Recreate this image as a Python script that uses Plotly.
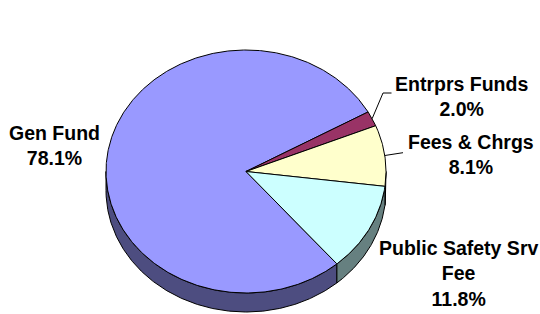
import numpy as np
import plotly.graph_objects as go

# ---- data ----
categories = ["Gen Fund", "Entrprs Funds", "Fees & Chrgs", "Public Safety Srv Fee"]
label_lines = ["Gen Fund", "Entrprs Funds", "Fees & Chrgs", "Public Safety Srv<br>Fee"]
values = [78.1, 2.0, 8.1, 11.8]
top_colors = ["#9999FF", "#993366", "#FFFFCC", "#CCFFFF"]
side_colors = ["#4D4D80", "#4D1A33", "#808066", "#668080"]

# ---- geometry / layout constants ----
W, H = 540, 314
cx, cy = 246.0, 171.5
rx, ry = 140.0, 121.5
depth = 19.0
first_angle = 310.5  # degrees, ccw from 3 o'clock; slices run clockwise

# label centres (layout) and leader elbows
label_pos = [(54, 145), (461.5, 96), (471, 154.5), (458, 273)]
leader_pts = [None, [(383, 93), (391.5, 93)], [(403, 152.7)], None]

FONT = dict(family="Liberation Sans, Arial, sans-serif", size=19.5, color="black")

total = float(sum(values))


def pt(a, dy=0.0):
    r = np.radians(a)
    return cx + rx * np.cos(r), cy - ry * np.sin(r) + dy


spans = []
a = first_angle
for v in values:
    sweep = 360.0 * v / total
    spans.append((a - sweep, a))
    a -= sweep

fig = go.Figure()

# side walls (front half only)
for (lo, hi), col in zip(spans, side_colors):
    for k in (-1, 0, 1):
        f0, f1 = 180 + 360 * k, 360 + 360 * k
        s0, s1 = max(lo, f0), min(hi, f1)
        if s1 - s0 <= 1e-6:
            continue
        t = np.linspace(s0, s1, max(int((s1 - s0) * 2), 2))
        xt, yt = pt(t)
        xb, yb = pt(t[::-1], depth)
        xs = np.concatenate([xt, xb, xt[:1]])
        ys = np.concatenate([yt, yb, yt[:1]])
        fig.add_trace(go.Scatter(x=xs, y=ys, mode="lines", fill="toself",
                                 fillcolor=col, line=dict(color="black", width=1),
                                 hoverinfo="skip", showlegend=False))

# top faces
for (lo, hi), col in zip(spans, top_colors):
    t = np.linspace(lo, hi, max(int((hi - lo) * 2), 2))
    xa, ya = pt(t)
    xs = np.concatenate([[cx], xa, [cx]])
    ys = np.concatenate([[cy], ya, [cy]])
    fig.add_trace(go.Scatter(x=xs, y=ys, mode="lines", fill="toself",
                             fillcolor=col, line=dict(color="black", width=1),
                             hoverinfo="skip", showlegend=False))

# leader lines
for (lo, hi), lp in zip(spans, leader_pts):
    if lp is None:
        continue
    mx, my = pt((lo + hi) / 2)
    xs = [mx] + [p[0] for p in lp]
    ys = [my] + [p[1] for p in lp]
    fig.add_trace(go.Scatter(x=xs, y=ys, mode="lines",
                             line=dict(color="black", width=1),
                             hoverinfo="skip", showlegend=False))

# labels
for name, v, (lx, ly) in zip(label_lines, values, label_pos):
    pct = 100.0 * v / total
    fig.add_annotation(x=lx, y=ly, xref="x", yref="y",
                       text=f"<b>{name}<br>{pct:.1f}%</b>",
                       showarrow=False, xanchor="center", yanchor="middle",
                       align="center", font=FONT)

fig.update_layout(
    width=W, height=H, autosize=False,
    margin=dict(l=0, r=0, t=0, b=0),
    paper_bgcolor="white", plot_bgcolor="white",
    showlegend=False,
    xaxis=dict(range=[0, W], visible=False, fixedrange=True),
    yaxis=dict(range=[H, 0], visible=False, fixedrange=True),
)

fig.write_html(
    "out.html",
    config={"displayModeBar": False},
    post_script="document.body.style.margin='0';document.body.style.overflow='hidden';",
)
